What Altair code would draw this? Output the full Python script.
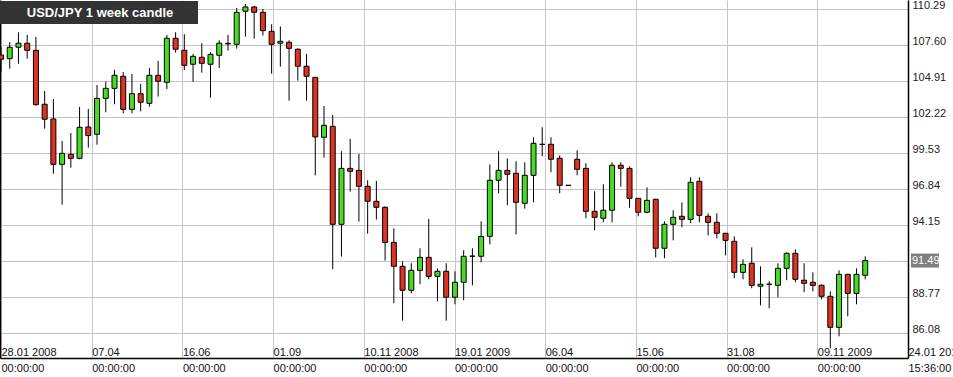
import altair as alt
import pandas as pd

# ---- data (weekly USD/JPY candles) ----
opens = [106.85, 106.58, 107.43, 107.73, 107.20, 103.17, 102.07, 98.68, 99.43, 99.13,
         101.47, 100.93, 103.61, 104.36, 105.26, 102.79, 103.96, 103.24, 105.33, 104.81,
         108.10, 107.20, 106.16, 106.68, 106.16, 106.83, 107.68, 107.65, 110.12, 110.44,
         110.04, 108.62, 107.73, 107.80, 107.28, 106.01, 105.18, 100.70, 101.52, 94.20,
         98.38, 98.23, 97.04, 95.92, 95.47, 92.85, 91.06, 89.27, 90.76, 91.73,
         90.31, 90.69, 88.75, 89.87, 91.81, 91.81, 93.30, 97.49, 98.23, 98.01,
         95.77, 97.86, 100.18, 100.18, 99.13, 97.12, 99.06, 98.38, 95.17, 94.65,
         95.25, 98.61, 98.38, 96.14, 95.10, 96.07, 92.41, 94.20, 94.80, 94.57,
         97.41, 94.80, 94.35, 93.53, 92.93, 90.61, 91.29, 89.57, 89.72, 89.64,
         90.91, 92.03, 90.02, 89.87, 89.64, 88.82, 86.50, 90.46, 89.04, 90.39]
highs = [107.47, 107.80, 108.55, 108.35, 108.20, 104.16, 103.56, 100.43, 101.02, 102.97,
         102.82, 104.61, 104.86, 105.73, 105.58, 105.43, 104.69, 105.88, 106.41, 108.35,
         108.55, 108.40, 106.93, 107.73, 107.05, 107.95, 108.35, 110.36, 110.66, 110.51,
         110.29, 109.14, 108.99, 107.95, 107.35, 106.93, 105.20, 103.04, 102.37, 99.66,
         100.58, 99.46, 97.49, 97.44, 95.54, 93.90, 91.44, 91.29, 92.41, 94.60,
         90.91, 91.29, 90.69, 92.26, 92.41, 94.42, 98.68, 99.66, 99.13, 98.91,
         98.83, 100.70, 101.45, 100.70, 99.36, 97.13, 99.73, 98.76, 96.67, 97.19,
         98.83, 98.83, 98.53, 96.17, 96.96, 96.10, 94.42, 95.25, 95.84, 97.71,
         97.71, 95.02, 95.02, 93.55, 93.30, 91.59, 92.48, 91.06, 89.95, 91.29,
         92.11, 92.33, 91.29, 90.61, 89.72, 89.19, 90.76, 90.50, 90.91, 91.81]
lows = [105.61, 105.83, 106.20, 106.58, 103.07, 101.35, 97.98, 95.67, 98.43, 99.06,
        99.93, 100.15, 102.57, 103.17, 102.49, 102.49, 102.64, 102.99, 103.74, 104.31,
        107.03, 105.73, 104.84, 105.53, 103.66, 105.88, 107.18, 107.33, 108.22, 108.07,
        108.30, 105.46, 105.98, 103.44, 104.94, 103.44, 97.86, 99.18, 90.84, 91.79,
        96.64, 94.40, 93.50, 94.55, 91.49, 88.30, 87.00, 89.05, 89.72, 90.09,
        88.45, 87.00, 88.22, 88.52, 89.64, 91.36, 92.70, 96.52, 95.62, 93.45,
        95.37, 95.84, 99.28, 98.09, 96.52, 97.09, 97.86, 94.65, 93.75, 94.35,
        94.35, 97.01, 95.44, 94.80, 95.02, 91.73, 91.66, 93.00, 93.98, 94.28,
        94.35, 93.38, 93.15, 91.88, 90.16, 90.09, 89.42, 88.15, 87.93, 88.75,
        90.02, 89.87, 89.13, 89.19, 88.59, 84.94, 85.83, 87.33, 88.22, 90.09]
closes = [106.53, 107.43, 107.73, 107.20, 103.14, 102.05, 98.68, 99.50, 99.13, 101.45,
          100.83, 103.61, 104.36, 105.33, 102.79, 103.96, 103.32, 105.33, 104.89, 108.10,
          107.28, 106.08, 106.75, 106.23, 106.90, 107.73, 107.72, 110.04, 110.44, 110.04,
          108.67, 107.65, 107.87, 107.35, 106.01, 105.26, 100.73, 101.60, 94.20, 98.38,
          98.16, 97.04, 95.92, 95.47, 92.85, 91.06, 89.27, 90.76, 91.73, 90.31,
          90.69, 88.75, 89.87, 91.81, 91.83, 93.30, 97.49, 98.23, 97.94, 95.84,
          97.86, 100.25, 100.17, 99.06, 97.11, 97.10, 98.31, 95.17, 94.72, 95.25,
          98.61, 98.38, 96.14, 95.10, 95.99, 92.41, 94.20, 94.72, 94.57, 97.34,
          94.87, 94.35, 93.53, 93.00, 90.61, 91.21, 89.64, 89.72, 89.73, 90.91,
          92.03, 90.09, 89.79, 89.64, 88.82, 86.50, 90.46, 89.04, 90.46, 91.49]

price_ticks = [86.08, 88.77, 91.46, 94.15, 96.84, 99.53, 102.22, 104.91, 107.60, 110.29]
week_ticks = [0.0, 10.39, 20.78, 31.17, 41.56, 51.95, 62.34, 72.73, 83.12, 93.51, 103.9]
tick_dates = ["28.01 2008", "07.04", "16.06", "01.09", "10.11 2008", "19.01 2009",
              "06.04", "15.06", "31.08", "09.11 2009", "24.01 2010"]
tick_times = ["00:00:00"] * 10 + ["15:36:00"]
last_price = [91.49]
title_text = ["USD/JPY 1 week candle"]

df = pd.DataFrame({
    "week": list(range(len(opens))),
    "open": opens, "high": highs, "low": lows, "close": closes,
})

FONT = "Liberation Sans"
x_scale = alt.Scale(domain=[-0.115, 103.9], nice=False, zero=False, padding=0)
y_scale = alt.Scale(domain=[84.21, 110.96], nice=False, zero=False, padding=0)

# label expression: nested conditional returning two-line labels
label_expr = "''"
for v, d, t in reversed(list(zip(week_ticks, tick_dates, tick_times))):
    label_expr = f"abs(datum.value - {v}) < 0.01 ? ['{d}', '{t}'] : ({label_expr})"

x_axis = alt.Axis(
    values=week_ticks, labelExpr=label_expr,
    orient="bottom", title=None, grid=True, gridColor="#c4c4c4", gridWidth=1,
    ticks=False, domain=True, domainColor="#000000", domainWidth=1.5,
    labelAlign="left", labelBaseline="alphabetic", labelPadding=-3, labelLineHeight=16.5,
    labelFont=FONT, labelFontSize=11, labelColor="#111111", labelFlush=False,
    labelOverlap=False, labelBound=False,
)
y_axis_right = alt.Axis(
    values=price_ticks,
    labelExpr="abs(datum.value - 91.46) < 0.001 ? '' : format(datum.value, '.2f')",
    orient="right", title=None, grid=True, gridColor="#c4c4c4", gridWidth=1,
    ticks=False, domain=True, domainColor="#000000", domainWidth=1.5,
    labelAlign="left", labelBaseline="alphabetic", labelPadding=4,
    labelFont=FONT, labelFontSize=11, labelColor="#222222", labelOverlap=False,
    labelFlush=False, labelBound=False,
)
y_axis_left = alt.Axis(
    orient="left", title=None, grid=False, labels=False, ticks=False,
    domain=True, domainColor="#000000", domainWidth=1.5,
)

base = alt.Chart(df)

wicks = base.mark_rule(color="#000000", strokeWidth=1).encode(
    x=alt.X("week:Q", scale=x_scale, axis=x_axis),
    y=alt.Y("low:Q", scale=y_scale, axis=y_axis_right),
    y2="high:Q",
)

bodies = base.mark_bar(width=5, stroke="#000000", strokeWidth=1).encode(
    x=alt.X("week:Q", scale=x_scale, axis=x_axis),
    y=alt.Y("open:Q", scale=y_scale, axis=y_axis_left),
    y2="close:Q",
    color=alt.condition("datum.close >= datum.open", alt.value("#44dd22"), alt.value("#dd3322")),
)

title_df = pd.DataFrame({"t": title_text})
title_box = alt.Chart(title_df).mark_rect(color="#333333").encode(
    x=alt.value(0), x2=alt.value(198), y=alt.value(1), y2=alt.value(24),
)
title_lbl = alt.Chart(title_df).mark_text(
    color="#ffffff", font=FONT, fontSize=13, fontWeight="bold",
    align="center", baseline="middle",
).encode(x=alt.value(100), y=alt.value(13), text="t:N")

last_df = pd.DataFrame({"p": last_price})
last_box = alt.Chart(last_df).mark_point(
    shape="M-1,-0.5H1V0.5H-1Z", size=784, filled=True, color="#808080", opacity=1,
    strokeWidth=0,
).encode(x=alt.value(925), y=alt.Y("p:Q", scale=y_scale, axis=None))
last_lbl = alt.Chart(last_df).mark_text(
    color="#ffffff", font=FONT, fontSize=11, align="left", baseline="middle",
).encode(x=alt.value(912), y=alt.Y("p:Q", scale=y_scale, axis=None),
         text=alt.Text("p:Q", format=".2f"))

chart = alt.layer(wicks, bodies, title_box, title_lbl, last_box, last_lbl).properties(
    width=908, height=358, background="#ffffff",
    autosize=alt.AutoSizeParams(type="none"),
    padding={"left": 0, "top": 0, "right": 45, "bottom": 19},
).configure_view(stroke=None)

chart.save("out.html", embed_options={"renderer": "svg", "actions": False})
